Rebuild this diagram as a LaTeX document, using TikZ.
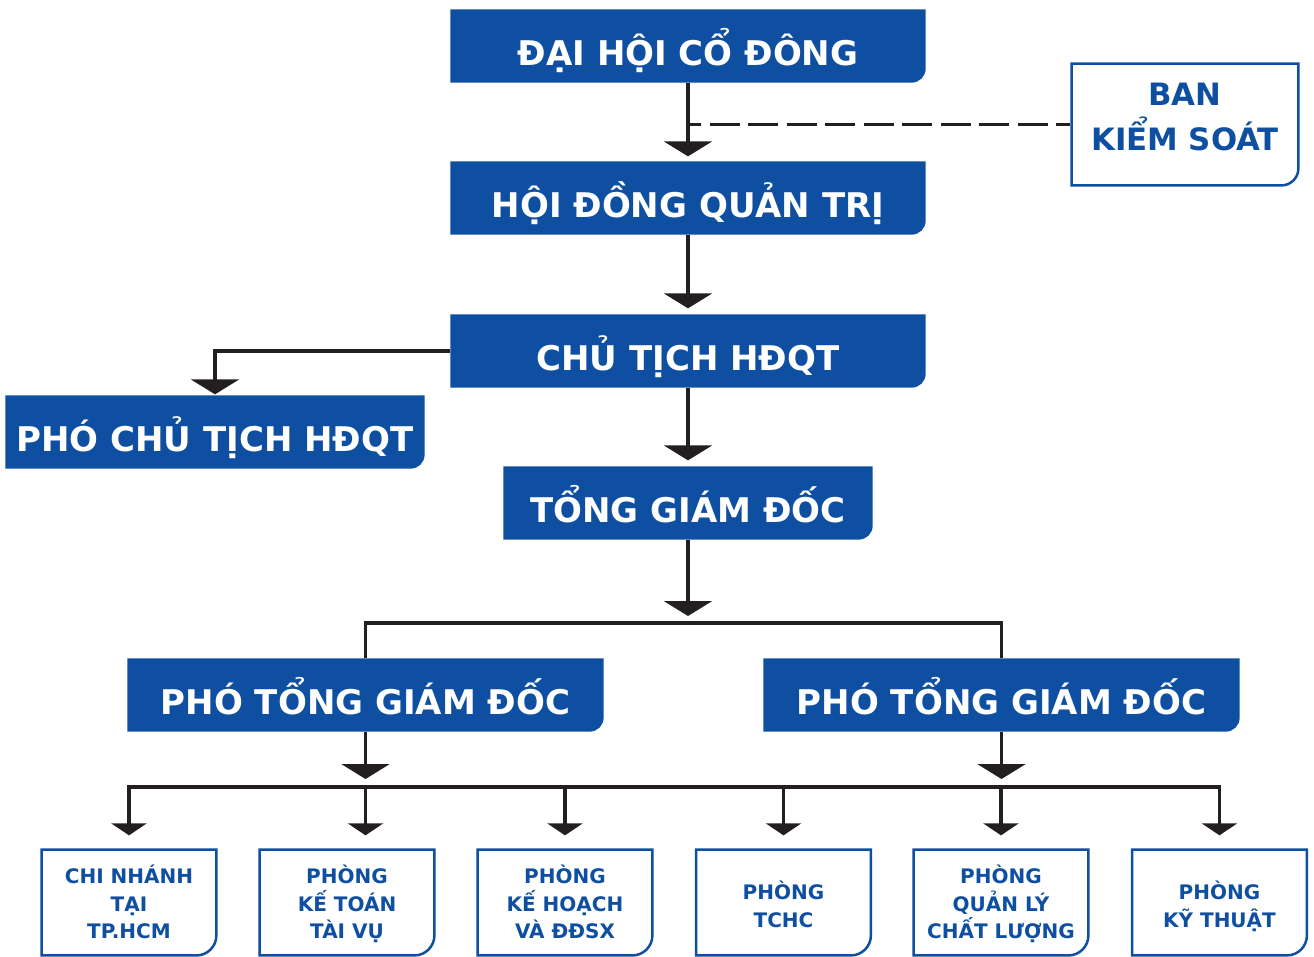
\documentclass[tikz,border=0pt]{standalone}
\usepackage{fontspec}
\setmainfont{DejaVu Sans}
\usetikzlibrary{arrows.meta,backgrounds}
\definecolor{boxblue}{HTML}{0F4FA2}
\definecolor{ink}{HTML}{231F20}
\newcommand\stk[1]{\vbox{\lineskiplimit=-\maxdimen\halign{\hfil##\hfil\cr#1\crcr}}}
\tikzset{
  big/.style={rectangle, inner sep=0pt, minimum height=70pt, text=white,
    font=\fontsize{34}{40}\selectfont\bfseries, text height=38pt, text depth=0pt},
  bot/.style={rectangle, inner sep=0pt, minimum width=174pt, minimum height=105pt,
    text=boxblue, font=\fontsize{20}{27.5}\selectfont\bfseries, text depth=0pt},
  botthree/.style={bot, text height=72pt},
  bottwo/.style={bot, text height=49pt},
  arr/.style={-{Triangle[width=48pt,length=15pt]}},
  sarr/.style={-{Triangle[width=35pt,length=12pt]}},
}
\begin{document}
\begin{tikzpicture}[x=1pt,y=-1pt,line width=3.3pt,draw=ink,line join=miter]
\useasboundingbox (0,0) rectangle (1314,956);
% boxes
\node[big, minimum width=472pt] (dhcd) at (688,46) {ĐẠI HỘI CỔ ĐÔNG};
\node[big, minimum width=472pt] (hdqt) at (688,198) {HỘI ĐỒNG QUẢN TRỊ};
\node[big, minimum width=472pt] (ct) at (688,351) {CHỦ TỊCH HĐQT};
\node[big, minimum width=416pt] (pct) at (215,432) {PHÓ CHỦ TỊCH HĐQT};
\node[big, minimum width=366pt] (tgd) at (688,503) {TỔNG GIÁM ĐỐC};
\node[big, minimum width=473pt] (pt1) at (365.5,695) {PHÓ TỔNG GIÁM ĐỐC};
\node[big, minimum width=473pt] (pt2) at (1001.5,695) {PHÓ TỔNG GIÁM ĐỐC};
\node[rectangle, inner sep=0pt, minimum width=226pt, minimum height=121pt, text=boxblue,
  font=\fontsize{30.8}{45}\selectfont\bfseries, text height=51pt, text depth=0pt]
  (bks) at (1185,124.5) {\stk{BAN\cr KIỂM SOÁT}};
\node[botthree] (b1) at (129,902.5) {\stk{CHI NHÁNH\cr TẠI\cr TP.HCM}};
\node[botthree] (b2) at (347,902.5) {\stk{PHÒNG\cr KẾ TOÁN\cr TÀI VỤ}};
\node[botthree] (b3) at (565,902.5) {\stk{PHÒNG\cr KẾ HOẠCH\cr VÀ ĐĐSX}};
\node[bottwo] (b4) at (783.5,902.5) {\stk{PHÒNG\cr TCHC}};
\node[botthree] (b5) at (1001,902.5) {\stk{PHÒNG\cr QUẢN LÝ\cr CHẤT LƯỢNG}};
\node[bottwo] (b6) at (1219.5,902.5) {\stk{PHÒNG\cr KỸ THUẬT}};
% box shapes
\begin{scope}[on background layer]
\foreach \n in {dhcd,hdqt,ct,pct,tgd,pt1,pt2}
  \fill[boxblue] (\n.north west) -- (\n.north east) -- ([yshift=14pt]\n.south east)
    arc[start angle=0,end angle=-90,radius=14pt] -- (\n.south west) -- cycle;
\draw[boxblue, line width=2.5pt]
  ([xshift=1.25pt,yshift=-1.25pt]bks.north west) -- ([xshift=-1.25pt,yshift=-1.25pt]bks.north east)
  -- ([xshift=-1.25pt,yshift=18.25pt]bks.south east) arc[start angle=0,end angle=-90,radius=17pt]
  -- ([xshift=1.25pt,yshift=1.25pt]bks.south west) -- cycle;
\foreach \n in {b1,b2,b3,b4,b5,b6}
  \draw[boxblue, line width=2.5pt]
  ([xshift=1.25pt,yshift=-1.25pt]\n.north west) -- ([xshift=-1.25pt,yshift=-1.25pt]\n.north east)
  -- ([xshift=-1.25pt,yshift=21.25pt]\n.south east) arc[start angle=0,end angle=-90,radius=20pt]
  -- ([xshift=1.25pt,yshift=1.25pt]\n.south west) -- cycle;
\end{scope}
% junctions
\coordinate (j1) at (688,623);
\coordinate (j2) at (688,787);
% connectors
\draw[ink, dash pattern=on 30pt off 8.5pt, dash phase=17pt] (bks.west -| dhcd.south) -- (bks.west);
\draw[ink, arr, shorten >=5pt] (dhcd.south) -- (hdqt.north);
\draw[ink, arr, shorten >=6pt] (hdqt.south) -- (ct.north);
\draw[ink, arr, shorten >=6pt] (ct.south) -- (tgd.north);
\draw[ink, arr, shorten >=1pt] (ct.west) -| (pct.north);
\draw[ink, arr, shorten >=7pt] (tgd.south) -- (j1);
\draw[ink] (pt1.north) |- (j1) -| (pt2.north);
\draw[ink, arr, shorten >=8pt] (pt1.south) -- (pt1.south |- j2);
\draw[ink, arr, shorten >=8pt] (pt2.south) -- (pt2.south |- j2);
\draw[ink, line cap=rect] (b1.north |- j2) -- (b6.north |- j2);
\draw[ink, sarr, shorten >=13pt] (b1.north |- j2) -- (b1.north);
\draw[ink, sarr, shorten >=13pt] (pt1.south |- j2) -- (pt1.south |- b2.north);
\draw[ink, sarr, shorten >=13pt] (b3.north |- j2) -- (b3.north);
\draw[ink, sarr, shorten >=13pt] (b4.north |- j2) -- (b4.north);
\draw[ink, sarr, shorten >=13pt] (b5.north |- j2) -- (b5.north);
\draw[ink, sarr, shorten >=13pt] (b6.north |- j2) -- (b6.north);
\end{tikzpicture}
\end{document}
